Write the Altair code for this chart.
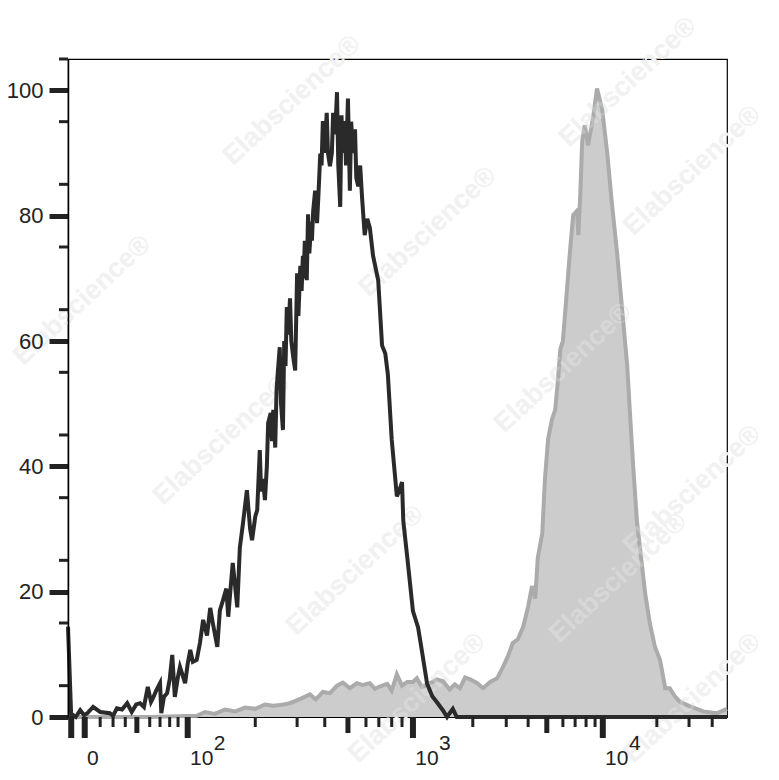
import altair as alt
import pandas as pd

# ---- histogram data (display channel 0..1024, % of max) ----
black_ch = [0, 5, 8, 12, 19, 25, 30, 39, 50, 65, 70, 76, 84, 92, 99, 106, 112, 118, 124, 129,
            132, 137, 143, 145, 149, 154, 158, 162, 166, 171, 174, 182, 186, 190, 194, 200, 205,
            210, 216, 221, 225, 232, 236, 241, 246, 249, 253, 256, 263, 267, 272, 278, 283, 286,
            291, 294, 298, 300, 303, 306, 309, 311, 315, 317, 319, 322, 324, 326, 329, 331, 334, 336,
            338, 340, 342, 345, 347, 350, 353, 356, 358, 361, 363, 365, 366, 368, 371, 373, 375, 378,
            379, 381, 384, 387, 389, 392, 394, 396, 399, 402, 404, 407, 410, 412, 415, 418, 420, 423,
            425, 427, 430, 432, 435, 438, 440, 443, 446, 448, 451, 454, 457, 461, 465, 469, 474, 482,
            488, 493, 497, 503, 511, 516, 519, 521, 528, 536, 544, 550, 558, 566, 573, 583, 589, 593,
            598, 604, 1024]
black_y = [14.4, 0.0, 0.3, 0.0, 1.1, 0.3, 0.6, 1.6, 0.8, 0.6, 0.2, 1.4, 1.2, 2.2, 0.8, 2.0, 2.2, 1.6, 4.8, 2.4,
           3.0, 4.2, 5.4, 0.6, 3.2, 3.8, 6.0, 9.9, 3.2, 6.5, 8.0, 5.4, 8.5, 10.7, 8.8, 9.1, 11.8,
           15.5, 13.0, 17.4, 15.0, 11.2, 17.0, 18.7, 20.5, 16.0, 21.0, 24.6, 17.5, 27.0, 31.0, 36.2, 30.0, 28.2,
           32.0, 33.0, 42.6, 36.0, 38.0, 34.6, 40.0, 46.9, 48.5, 44.0, 49.0, 43.0, 52.0, 55.0, 59.0, 50.0, 45.8, 60.0,
           56.0, 65.4, 61.0, 66.8, 60.0, 57.4, 55.3, 70.8, 64.0, 72.0, 68.0, 73.6, 70.0, 76.0, 69.7, 80.2, 74.0, 79.0,
           76.0, 80.8, 84.0, 78.8, 83.0, 89.9, 88.0, 95.1, 90.0, 96.4, 90.0, 87.9, 90.0, 96.4, 93.0, 99.7, 88.0, 81.4,
           96.0, 90.0, 95.1, 88.0, 98.7, 84.0, 95.0, 90.0, 93.8, 86.0, 84.7, 88.0, 82.8, 76.9, 79.5, 78.1, 73.6, 69.7,
           59.3, 58.0, 54.7, 44.3, 35.2, 36.5, 37.5, 31.3, 24.7, 16.9, 14.3, 10.5, 5.3, 3.3, 2.4, 1.0, 0.0, 0.6,
           1.3, 0.0, 0.0]

gray_ch = [0, 50, 127, 200, 213, 228, 244, 260, 275, 291, 306, 319, 329, 345, 361, 376, 385, 396, 407, 418,
           427, 438, 449, 458, 469, 477, 485, 496, 503, 511, 519, 527, 536, 542, 550, 563, 573, 583, 593,
           601, 609, 617, 625, 636, 645, 656, 667, 676, 684, 691, 699, 707, 715, 721, 726, 730, 737, 741,
           746, 752, 757, 761, 765, 769, 775, 780, 785, 791, 793, 796, 799, 803, 808, 816, 822, 830, 838,
           845, 853, 861, 869, 873, 878, 884, 889, 897, 904, 912, 920, 928, 935, 943, 951, 967, 987, 1008, 1024]
gray_y = [0, 0, 0, 0.2, 0.8, 0.5, 1.2, 0.9, 1.5, 1.3, 2.0, 1.8, 1.9, 2.2, 2.9, 3.6, 2.8, 4.0, 3.8, 5.0,
          5.5, 4.6, 5.4, 5.1, 5.4, 4.5, 4.9, 5.3, 4.2, 6.8, 5.0, 5.6, 5.6, 6.2, 4.8, 5.4, 6.0, 5.7, 4.4,
          5.2, 4.6, 6.3, 6.0, 5.4, 4.6, 5.6, 6.2, 8.0, 9.8, 11.8, 12.4, 14.3, 17.6, 20.9, 18.9, 25.4, 29.3, 37.8,
          44.3, 47.5, 49.0, 53.4, 58.7, 60.0, 67.8, 74.3, 80.1, 80.8, 76.9, 83.4, 91.9, 94.4, 91.2, 95.7, 100.3, 97.0, 89.9,
          82.1, 74.3, 65.1, 56.0, 48.9, 40.4, 31.3, 26.8, 19.6, 15.0, 11.2, 9.1, 4.6, 4.6, 3.3, 2.4, 1.7, 0.9, 0.6, 1.3]

# ---- axis ticks (display channel) ----
x_major = [5, 26, 186, 536, 831]
x_medium = [107, 435, 744]
x_minor = [50, 70, 89, 127, 143, 158, 171, 291, 356, 399, 463, 483, 503, 519,
           629, 681, 715, 769, 788, 805, 819, 915, 965, 1001]
x_label_ch = [186, 536, 831]
x_label_base = ["10", "10", "10"]
x_label_exp = ["2", "3", "4"]
zero_label_ch = [26]
zero_label = ["0"]
y_major = [0, 20, 40, 60, 80, 100]
y_minor = [5, 15, 25, 35, 45, 55, 65, 75, 85, 95, 105]

# ---- watermark anchors ----
wm_ch = [348, 870, 970, 22, 559, 239, 769, 970, 446, 855, 542, 970]
wm_y = [98.4, 101.3, 87.2, 66.5, 77.4, 44.2, 55.7, 36.2, 23.4, 22.2, 3.0, 3.0]
wm_text = "Elabscience®"

W, H = 659, 658
FONT = "Liberation Sans"

xs = alt.Scale(domain=[0, 1024], nice=False, zero=False)
ys = alt.Scale(domain=[0, 105], nice=False, zero=False)
y_axis = alt.Axis(values=y_major, title=None, grid=False, tickSize=19, tickWidth=5,
                  tickColor="#222222", domainColor="#000000", domainWidth=1.5, zindex=1,
                  labelFont=FONT, labelFontSize=22, labelColor="#222222", labelPadding=6)

black_df = pd.DataFrame({"ch": black_ch, "v": black_y})
gray_df = pd.DataFrame({"ch": gray_ch, "v": gray_y})
wm_df = pd.DataFrame({"ch": wm_ch, "v": wm_y, "t": [wm_text] * len(wm_ch)})

X = alt.X("ch:Q", scale=xs, axis=None)
Y = alt.Y("v:Q", scale=ys, axis=y_axis)

wm_under = alt.Chart(wm_df).mark_text(angle=317, font=FONT, fontSize=27, fontWeight="bold",
                                      color="#eeeeee").encode(x=X, y=Y, text="t:N")
wm_over = alt.Chart(wm_df).mark_text(angle=317, font=FONT, fontSize=27, fontWeight="bold",
                                     color="#ffffff", opacity=0.22).encode(x=X, y=Y, text="t:N")

gray_area = alt.Chart(gray_df).mark_area(color="#cccccc", opacity=1, interpolate="linear").encode(x=X, y=Y)
gray_line = alt.Chart(gray_df).mark_line(color="#ababab", strokeWidth=4).encode(x=X, y=Y)
black_line = alt.Chart(black_df).mark_line(color="#2a2a2a", strokeWidth=4).encode(x=X, y=Y)


def xticks(vals, length, width):
    return alt.Chart(pd.DataFrame({"ch": vals})).mark_rule(color="#222222", strokeWidth=width).encode(
        x=X, y=alt.value(H), y2=alt.value(H + length))


tick_major = xticks(x_major, 21, 6)
tick_medium = xticks(x_medium, 16, 5)
tick_minor = xticks(x_minor, 10, 3)

y_minor_ticks = alt.Chart(pd.DataFrame({"v": y_minor})).mark_rule(color="#222222", strokeWidth=3).encode(
    y=Y, x=alt.value(-9), x2=alt.value(0))

lab_df = pd.DataFrame({"ch": x_label_ch, "base": x_label_base, "exp": x_label_exp})
lab_base = alt.Chart(lab_df).mark_text(font=FONT, fontSize=21, color="#222222", align="center",
                                       baseline="middle", dx=14).encode(x=X, y=alt.value(H + 42), text="base:N")
lab_exp = alt.Chart(lab_df).mark_text(font=FONT, fontSize=21, color="#222222", align="center",
                                      baseline="middle", dx=32).encode(x=X, y=alt.value(H + 27), text="exp:N")
lab_zero = alt.Chart(pd.DataFrame({"ch": zero_label_ch, "base": zero_label})).mark_text(
    font=FONT, fontSize=21, color="#222222", align="center", baseline="middle", dx=8).encode(
    x=X, y=alt.value(H + 42), text="base:N")

chart = alt.layer(
    wm_under, gray_area, gray_line, wm_over, black_line,
    tick_minor, tick_medium, tick_major, y_minor_ticks,
    lab_base, lab_exp, lab_zero,
).properties(
    width=W, height=H,
    autosize=alt.AutoSizeParams(type="none"),
    padding={"left": 60, "top": 51, "right": 40, "bottom": 54},
    background="white",
).configure_view(stroke="#000000", strokeWidth=1.2)

chart.save("out.html", embed_options={"renderer": "svg", "actions": False})
